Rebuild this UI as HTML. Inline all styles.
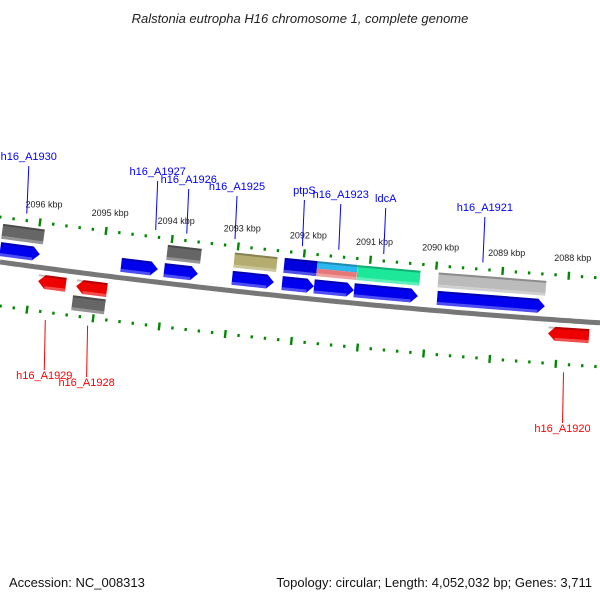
<!DOCTYPE html>
<html><head><meta charset="utf-8"><style>
html,body{margin:0;padding:0;background:#fff;width:600px;height:600px;overflow:hidden}
text{font-family:"Liberation Sans","DejaVu Sans",sans-serif}
</style></head><body>
<svg id="chart" width="600" height="600" viewBox="0 0 600 600">
<text x="300" y="23" text-anchor="middle" font-size="13" font-style="italic" fill="#222">Ralstonia eutropha H16 chromosome 1, complete genome</text>
<text x="9" y="587" font-size="13" fill="#111">Accession: NC_008313</text>
<text x="592" y="587" text-anchor="end" font-size="13" fill="#111">Topology: circular; Length: 4,052,032 bp; Genes: 3,711</text>
<g id="layer"></g>
</svg>
<script>
const tickKbp=[2096.6,2096,2095,2094,2093,2092,2091,2090,2089,2088,2087.5];
const majorKbp=[2096,2095,2094,2093,2092,2091,2090,2089,2088];
const fwdStarts=[2096.605,2094.775,2094.124,2093.095,2092.339,2091.855,2091.250,2089.994];
const fwdEnds=[2096.0,2094.215,2093.610,2092.460,2091.855,2091.250,2090.281,2088.360];
const row2Starts=[2096.575,2094.079,2093.065,2092.309,2091.810,2091.204,2089.979];
const row2Ends=[2095.939,2093.564,2092.415,2091.810,2091.204,2090.251,2088.345];
const row2Colors=['#666','#666','#b5ad70','#0000dd','split','#1de89a','#bbb'];
const revStarts=[2096.030,2095.455,2088.315];
const revEnds=[2095.607,2094.986,2087.694];
const grayRevStarts=[2095.516];
const grayRevEnds=[2095.017];
const fwdLabels=['h16_A1930','h16_A1927','h16_A1926','h16_A1925','ptpS','h16_A1923','ldcA','h16_A1921'];
const fwdLabelKbp=[2096.2,2094.25,2093.78,2093.05,2092.03,2091.48,2090.8,2089.3];
const revLabels=['h16_A1929','h16_A1928','h16_A1920'];
const revLabelKbp=[2095.92,2095.28,2088.08];

const NS='http://www.w3.org/2000/svg';
const layer=document.getElementById('layer');
const PX=66.1;
function xOf(k){return 40+(2096-k)*PX;}
function yOf(x){return 262+0.138*x-6.1e-5*x*x;}
function ang(x){return Math.atan(0.138-2*6.1e-5*x)*180/Math.PI;}
function mk(tag,attrs,parent){const e=document.createElementNS(NS,tag);for(const k in attrs)e.setAttribute(k,attrs[k]);(parent||layer).appendChild(e);return e;}

// backbone
let d='';for(let x=0;x<=600;x+=5){d+=(x?'L':'M')+x+','+yOf(x).toFixed(1);}
const bb=mk('path',{d:d,stroke:'#777',fill:'none','stroke-width':5});



// ticks
function track(off,shift,name){
  const g=mk('g',{});
  
  
  for(let k=2097;k>=2087;k-=0.2){
    const x=xOf(k)+shift; if(x<-5||x>605)continue;
    const y=yOf(x)+off;
    const major=Math.abs(k-Math.round(k))<0.01;
    const r=mk('rect',{x:x-1.2,y:y-(major?4:1.5),width:2.4,height:major?8:3,fill:'#080',transform:`rotate(${ang(x)} ${x} ${y})`},g);
  }
}
track(-45,0,'upper-tick-track');
track(44,-13,'lower-tick-track');
majorKbp.forEach(k=>{
  const x=xOf(k);const y=yOf(x)-60;
  const t=mk('text',{x:x+4,y:y,'text-anchor':'middle','font-size':9,fill:'#222'});
  t.textContent=k+' kbp';
  
  
});

function feature(s,e,off,h,color,dir,name){
  const x1=xOf(s),x2=xOf(e);const cx=(x1+x2)/2;const cy=yOf(cx)+off;
  const w=x2-x1;const g=mk('g',{transform:`rotate(${ang(cx)} ${cx} ${cy})`});
  
  
  const L=cx-w/2,R=cx+w/2,T=cy-h/2,B=cy+h/2,hd=Math.min(7,w/3);
  let pts;
  if(dir>0)pts=`${L},${T} ${R-hd},${T} ${R},${cy} ${R-hd},${B} ${L},${B}`;
  else if(dir<0)pts=`${L+hd},${T} ${R},${T} ${R},${B} ${L+hd},${B} ${L},${cy}`;
  else pts=`${L},${T} ${R},${T} ${R},${B} ${L},${B}`;
  if(color==='split'){
    mk('rect',{x:L,y:T,width:w,height:h/2,fill:'#2ab8ee'},g);
    mk('rect',{x:L,y:cy,width:w,height:h/2,fill:'#e87878'},g);
  } else mk('polygon',{points:pts,fill:color},g);
  mk('rect',{x:L,y:T,width:w-(dir>0?hd:0),height:2,fill:'#000',opacity:0.25},g);
  mk('rect',{x:L+(dir<0?hd:0),y:B-3,width:w-hd*(dir?1:0),height:3,fill:'#fff',opacity:0.3},g);
}
fwdStarts.forEach((s,i)=>feature(s,fwdEnds[i],-13,14,'#0000ee',1,'forward-gene-'+i));
row2Starts.forEach((s,i)=>feature(s,row2Ends[i],-31,15,row2Colors[i],0,'feature-box-'+i));
revStarts.forEach((s,i)=>feature(s,revEnds[i],14,14,'#ee0000',-1,'reverse-gene-'+i));
grayRevStarts.forEach((s,i)=>feature(s,grayRevEnds[i],31,15,'#666',0,'reverse-feature-'+i));

function label(txt,k,above,color,name,yl){
  const x=xOf(k);const y0=yOf(x)+(above?-52:52);
  const ln=mk('line',{x1:x,y1:y0,x2:x+(above?2:-1),y2:yl+(above?6:-9),stroke:color,'stroke-width':1});
  
  
  const t=mk('text',{x:x+(above?2:-1),y:yl+(above?0:0),'text-anchor':'middle','font-size':11,fill:color});
  t.textContent=txt;
  
  
}
const fwdLabelY=[160,175,183,190,194,198,202,211];
fwdLabels.forEach((t,i)=>label(t,fwdLabelKbp[i],true,'#00f','label-'+t,fwdLabelY[i]));
const revLabelY=[379,386,432];
revLabels.forEach((t,i)=>label(t,revLabelKbp[i],false,'#f00','label-'+t,revLabelY[i]));
</script>
</body></html>
